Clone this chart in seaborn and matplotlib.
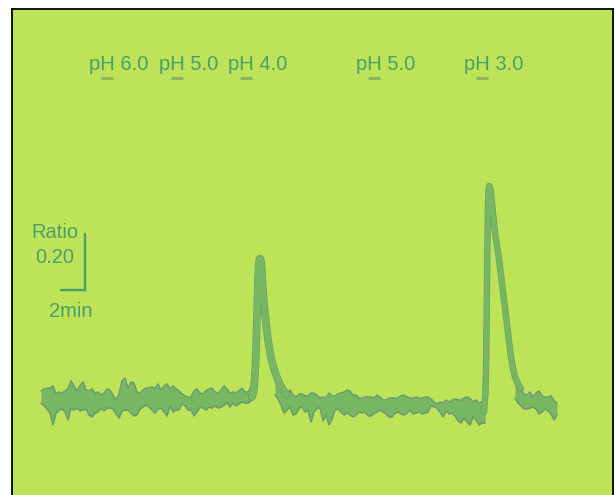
import numpy as np
import pandas as pd
import matplotlib.pyplot as plt
import matplotlib.patheffects as pe
import seaborn as sns

sns.set_style("white")
plt.rcParams['font.family'] = ['Liberation Sans', 'DejaVu Sans']

# ---- data: fluorescence ratio trace (time in s, ratio) ----
# baseline noise band, sampled every 15 s (upper / lower envelope)
base1_t = np.arange(0, 1066, 15)
base1_hi = [1.022, 1.029, 1.032, 1.032, 1.040, 1.011, 1.018, 1.014, 1.022, 1.029,
            1.058, 1.040, 1.022, 1.040, 1.054, 1.025, 1.022, 1.029, 1.014, 1.018,
            1.007, 1.014, 1.029, 1.025, 1.007, 0.989, 1.011, 1.058, 1.068, 1.032,
            1.054, 1.050, 1.018, 1.014, 1.025, 1.032, 1.032, 1.036, 1.032, 1.047,
            1.025, 1.040, 1.047, 1.029, 1.040, 1.029, 1.022, 1.011, 1.004, 1.000,
            1.000, 1.022, 1.029, 1.014, 1.011, 1.022, 1.029, 1.032, 1.018, 1.014,
            1.025, 1.040, 1.029, 1.014, 1.018, 1.014, 1.022, 1.032, 1.018, 1.018,
            1.036, 1.043]
base1_lo = [0.978, 0.968, 0.957, 0.942, 0.899, 0.942, 0.953, 0.957, 0.946, 0.917,
            0.960, 0.953, 0.960, 0.950, 0.953, 0.957, 0.935, 0.928, 0.942, 0.946,
            0.960, 0.950, 0.960, 0.960, 0.957, 0.939, 0.924, 0.950, 0.953, 0.953,
            0.942, 0.932, 0.935, 0.957, 0.964, 0.971, 0.964, 0.953, 0.942, 0.957,
            0.960, 0.946, 0.932, 0.968, 0.946, 0.953, 0.953, 0.975, 0.968, 0.953,
            0.953, 0.932, 0.946, 0.964, 0.960, 0.953, 0.964, 0.960, 0.968, 0.960,
            0.964, 0.971, 0.978, 0.964, 0.978, 0.968, 0.975, 0.982, 0.978, 0.978,
            0.986, 0.996]

base2_t = np.arange(1170, 2221, 15)
base2_hi = [1.054, 1.050, 1.029, 1.022, 1.014, 1.025, 1.007, 1.000, 1.011, 1.011,
            1.004, 1.004, 1.014, 1.014, 1.007, 0.996, 1.000, 0.996, 1.014, 1.004,
            1.004, 1.011, 1.014, 1.018, 1.025, 1.022, 1.007, 1.007, 0.996, 0.996,
            1.000, 1.000, 1.000, 0.996, 1.007, 1.000, 0.989, 0.989, 0.996, 0.996,
            0.996, 0.996, 1.004, 1.007, 1.000, 0.996, 0.996, 1.000, 0.996, 0.996,
            1.000, 1.000, 0.993, 0.982, 0.975, 0.982, 0.978, 0.989, 0.982, 0.989,
            0.993, 0.989, 0.989, 0.996, 1.000, 0.996, 0.982, 0.989, 0.978, 0.982,
            0.996]
base2_lo = [1.007, 0.993, 0.971, 0.942, 0.953, 0.964, 0.935, 0.939, 0.960, 0.964,
            0.946, 0.953, 0.910, 0.946, 0.960, 0.960, 0.914, 0.935, 0.899, 0.921,
            0.953, 0.957, 0.946, 0.935, 0.942, 0.935, 0.928, 0.935, 0.946, 0.942,
            0.946, 0.932, 0.932, 0.942, 0.946, 0.953, 0.946, 0.939, 0.928, 0.928,
            0.942, 0.946, 0.939, 0.935, 0.942, 0.953, 0.939, 0.942, 0.946, 0.939,
            0.942, 0.946, 0.968, 0.964, 0.960, 0.946, 0.928, 0.950, 0.939, 0.942,
            0.932, 0.914, 0.906, 0.924, 0.910, 0.899, 0.928, 0.917, 0.899, 0.906,
            0.906]

base3_t = np.arange(2370, 2581, 15)
base3_hi = [1.054, 1.025, 1.022, 1.011, 1.007, 1.018, 1.000, 1.014, 1.022, 1.004,
            1.000, 1.000, 1.004, 0.986, 0.978]
base3_lo = [0.996, 0.978, 0.968, 0.957, 0.957, 0.960, 0.964, 0.957, 0.939, 0.946,
            0.957, 0.950, 0.939, 0.917, 0.935]

# ratio responses to pH 4.0 and pH 3.0
spike1_t = [1055, 1065, 1072.5, 1077.5, 1081.5, 1085, 1088.5, 1093, 1098, 1102.5,
            1106.5, 1110, 1115, 1121.5, 1129, 1137.5, 1147.5, 1157.5, 1170, 1185,
            1205, 1225]
spike1_r = [1.000, 1.025, 1.115, 1.223, 1.331, 1.421, 1.475, 1.497, 1.497, 1.475,
            1.432, 1.385, 1.338, 1.288, 1.241, 1.194, 1.151, 1.119, 1.090, 1.061,
            1.032, 1.011]
spike2_t = [2215, 2221.5, 2225, 2227.5, 2230, 2232.5, 2235, 2237.5, 2241.5, 2246.5,
            2251.5, 2260, 2270, 2282.5, 2292.5, 2302.5, 2310, 2318.5, 2327.5, 2335,
            2342.5, 2350, 2360, 2370, 2385, 2400]
spike2_r = [0.946, 1.007, 1.097, 1.241, 1.403, 1.565, 1.691, 1.745, 1.760, 1.752,
            1.724, 1.662, 1.590, 1.533, 1.482, 1.425, 1.378, 1.331, 1.277, 1.230,
            1.187, 1.144, 1.104, 1.072, 1.047, 1.029]

# solution changes
ph_labels = ['pH 6.0', 'pH 5.0', 'pH 4.0', 'pH 5.0', 'pH 3.0']
ph_times = [330, 680, 1025, 1665, 2205]

# ---- colours ----
bg = '#BDE359'
trace = '#78B761'
trace_edge = '#6A9C72'
txt = '#4B9E6C'
mark = '#8DB65C'

fig = plt.figure(figsize=(6.15, 4.95), dpi=100)
fig.patch.set_facecolor('white')
ax = fig.add_axes([12 / 615, 0, 601 / 615, 486 / 495])
ax.set_facecolor(bg)

for t, hi, lo in [(base1_t, base1_hi, base1_lo),
                  (base2_t, base2_hi, base2_lo),
                  (base3_t, base3_hi, base3_lo)]:
    ax.fill_between(t, lo, hi, color=trace, lw=0)
    sns.lineplot(x=t, y=hi, ax=ax, color=trace_edge, lw=1.1)
    sns.lineplot(x=t, y=lo, ax=ax, color=trace_edge, lw=1.1)

spikes = pd.DataFrame({
    't': spike1_t + spike2_t,
    'ratio': spike1_r + spike2_r,
    'resp': ['pH 4.0'] * len(spike1_t) + ['pH 3.0'] * len(spike2_t),
})
for name, d in spikes.groupby('resp'):
    w = 4.6 if name == 'pH 4.0' else 3.7
    sns.lineplot(data=d, x='t', y='ratio', ax=ax, sort=False, estimator=None,
                 color=trace, lw=w, solid_capstyle='round',
                 path_effects=[pe.Stroke(linewidth=w + 0.9, foreground=trace_edge),
                               pe.Normal()])

# pH labels with application markers
trans = ax.get_xaxis_transform()
for lab, t in zip(ph_labels, ph_times):
    ax.text(t - 92, 0.8745, lab, transform=trans, ha='left', va='baseline',
            fontsize=14.5, color=txt)
    ax.plot([t - 32, t + 32], [0.857, 0.857], transform=trans, color=mark,
            lw=2.2, solid_capstyle='butt')

# scale bar: 0.20 ratio, 2 min
bar_t, bar_r = 222, 1.387
ax.plot([bar_t - 120, bar_t, bar_t], [bar_r, bar_r, bar_r + 0.20],
        color=txt, lw=1.7, solid_joinstyle='miter')
ax.text(70, 1.572, 'Ratio', ha='center', va='baseline', fontsize=14.5, color=txt)
ax.text(70, 1.482, '0.20', ha='center', va='baseline', fontsize=14.5, color=txt)
ax.text(150, 1.288, '2min', ha='center', va='baseline', fontsize=14.5, color=txt)

ax.set_xlim(-145, 2860)
ax.set_ylim(0.6472, 2.3968)
ax.set_xticks([])
ax.set_yticks([])
ax.set_xlabel('')
ax.set_ylabel('')
for s in ['left', 'top', 'right']:
    ax.spines[s].set_color('black')
    ax.spines[s].set_linewidth(1.3)
ax.spines['bottom'].set_visible(False)

fig.savefig('out.png', dpi=100)
